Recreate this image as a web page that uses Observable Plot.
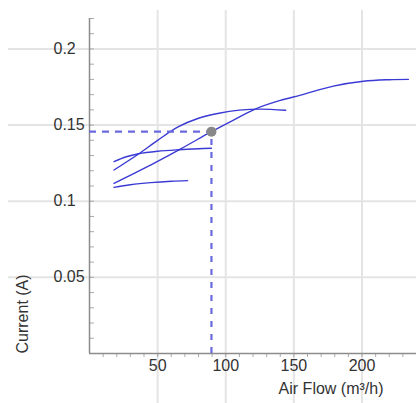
<!DOCTYPE html>
<html>
<head>
<meta charset="utf-8">
<script src="https://cdn.jsdelivr.net/npm/d3@7"></script>
<script src="https://cdn.jsdelivr.net/npm/@observablehq/plot@0.6"></script>
<style>
  html, body { margin: 0; padding: 0; background: #fff; }
  svg { display: block; }
</style>
</head>
<body>
<div id="chart"></div>
<script>
// Curve 1: short, flattening curve ending at the operating point line
const c1Flow = [18, 27, 36, 50, 65, 80, 89.5];
const c1Current = [0.126, 0.1292, 0.1312, 0.1328, 0.1338, 0.1345, 0.1348];
// Curve 2: rises steeply, peaks near 125 m³/h
const c2Flow = [18, 36, 50, 65, 80, 95, 110, 125, 144];
const c2Current = [0.1205, 0.131, 0.140, 0.1488, 0.1545, 0.1578, 0.1598, 0.1605, 0.1597];
// Curve 3: long curve through operating point
const c3Flow = [18, 40, 67, 89.5, 105, 122, 140, 155, 179, 201, 220, 234];
const c3Current = [0.1117, 0.1215, 0.1344, 0.1457, 0.153, 0.1607, 0.1662, 0.1697, 0.1756, 0.1788, 0.1798, 0.18];
// Curve 4: short low flat curve
const c4Flow = [18, 30, 45, 60, 72];
const c4Current = [0.1091, 0.1108, 0.1122, 0.1131, 0.1135];

// Operating point
const opFlow = [89.5];
const opCurrent = [0.1457];

// Axes
const xDomain = [0, 240];
const yDomain = [0, 0.22];
const xTicks = [50, 100, 150, 200];
const xTickLabels = ["50", "100", "150", "200"];
const yTicks = [0.05, 0.1, 0.15, 0.2];
const yTickLabels = ["0.05", "0.1", "0.15", "0.2"];
const xMinor = d3.range(10, 241, 10);
const yMinor = d3.range(1, 23).map(d => d / 100);
const xLabel = "Air Flow (m³/h)";
const yLabel = "Current (A)";

const toRows = (xs, ys, id) => xs.map((x, i) => ({flow: x, current: ys[i], id}));
const curves = [
  ...toRows(c1Flow, c1Current, "c1"),
  ...toRows(c2Flow, c2Current, "c2"),
  ...toRows(c3Flow, c3Current, "c3"),
  ...toRows(c4Flow, c4Current, "c4")
];
const op = opFlow.map((x, i) => ({flow: x, current: opCurrent[i]}));

const lineColor = "#3a3ad4";
const dashColor = "#6a6ae0";
const gridColor = "#e4e4e4";
const axisColor = "#8c8c8c";

const chart = Plot.plot({
  width: 416,
  height: 403,
  marginLeft: 89,
  marginRight: 0,
  marginTop: 18,
  marginBottom: 50,
  x: {domain: xDomain},
  y: {domain: yDomain},
  style: {fontFamily: "'Liberation Sans', Arial, sans-serif", fontSize: "16px", color: "#333", background: "#fff", overflow: "visible"},
  marks: [
    Plot.gridX(xTicks, {stroke: gridColor, strokeOpacity: 1, strokeWidth: 2, insetTop: -8, insetBottom: -50}),
    Plot.gridY(yTicks, {stroke: gridColor, strokeOpacity: 1, strokeWidth: 2, insetLeft: -81}),
    Plot.ruleY(yMinor, {x1: 0, x2: 0, insetRight: -5, stroke: "#aaa", strokeWidth: 1}),
    Plot.ruleX(xMinor, {y1: 0, y2: 0, insetBottom: -4, stroke: "#aaa", strokeWidth: 1}),
    Plot.ruleX([0], {stroke: axisColor, strokeWidth: 1.5}),
    Plot.ruleY([0], {stroke: axisColor, strokeWidth: 1.5}),
    Plot.axisY(yTicks, {tickSize: 0, tickPadding: 36, textAnchor: "start", tickFormat: (d, i) => yTickLabels[i], label: null, fill: "#333"}),
    Plot.axisX(xTicks, {tickSize: 0, tickPadding: 6, tickFormat: (d, i) => xTickLabels[i], label: null, fill: "#333"}),
    Plot.line(curves, {x: "flow", y: "current", z: "id", stroke: lineColor, strokeWidth: 1.4, curve: "catmull-rom"}),
    Plot.ruleY(op, {y: "current", x1: 0, x2: "flow", stroke: dashColor, strokeWidth: 2.2, strokeDasharray: "7,6"}),
    Plot.ruleX(op, {x: "flow", y1: 0, y2: "current", stroke: dashColor, strokeWidth: 2.2, strokeDasharray: "6,7"}),
    Plot.dot(op, {x: "flow", y: "current", r: 5, fill: "#888", stroke: "none"}),
    Plot.text([xLabel], {frameAnchor: "bottom-right", dx: -33, dy: 40, textAnchor: "end", fill: "#333"}),
    Plot.text([yLabel], {frameAnchor: "bottom-left", dx: -62, rotate: -90, textAnchor: "start", fill: "#333"})
  ]
});
document.getElementById("chart").appendChild(chart);
</script>
</body>
</html>
